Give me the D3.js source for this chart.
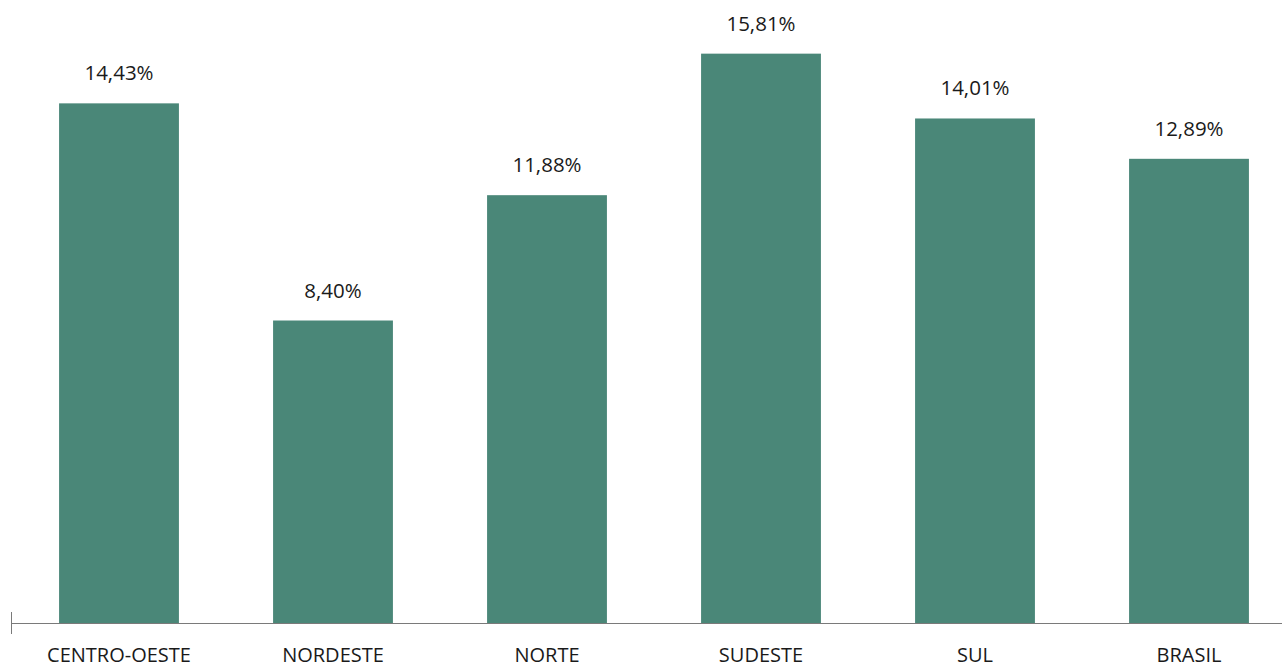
<!DOCTYPE html>
<html>
<head>
<meta charset="utf-8">
<script src="https://cdn.jsdelivr.net/npm/d3@7"></script>
<style>
    body { margin: 0; background: #fff; }
    text { font-family: "Open Sans", "Noto Sans", sans-serif; fill: #1a1a1a; }
</style>
</head>
<body>
<script>
(function() {

    //chart data
    var categories = ["CENTRO-OESTE", "NORDESTE", "NORTE", "SUDESTE", "SUL", "BRASIL"];
    var values = [14.43, 8.40, 11.88, 15.81, 14.01, 12.89];

    window.onload = setChart();

    function setChart() {
        var width = 1282,
            height = 666,
            baseline = 623;

        var svg = d3.select("body")
            .append("svg")
            .attr("width", width)
            .attr("height", height);

        var xScale = d3.scaleBand()
            .domain(categories)
            .range([12, 1296])
            .paddingInner(0.44)
            .paddingOuter(0.22);

        var yScale = d3.scaleLinear()
            .domain([0, 17.3])
            .range([baseline, 0]);

        var fmt = function(v) { return v.toFixed(2).replace(".", ",") + "%"; };

        //bars
        svg.selectAll(".bar")
            .data(values)
            .enter()
            .append("rect")
            .attr("class", "bar")
            .attr("x", (d, i) => xScale(categories[i]))
            .attr("width", xScale.bandwidth())
            .attr("y", d => yScale(d))
            .attr("height", d => baseline - yScale(d))
            .style("fill", "#4a8778");

        //value labels
        svg.selectAll(".numbers")
            .data(values)
            .enter()
            .append("text")
            .attr("class", "numbers")
            .attr("text-anchor", "middle")
            .attr("x", (d, i) => xScale(categories[i]) + xScale.bandwidth() / 2)
            .attr("y", d => yScale(d) - 23)
            .style("font-size", "20.5px")
            .text(fmt);

        //axis line
        svg.append("line")
            .attr("x1", 11).attr("x2", width)
            .attr("y1", baseline + 0.5).attr("y2", baseline + 0.5)
            .style("stroke", "#7a7a7a");
        svg.append("line")
            .attr("x1", 11.5).attr("x2", 11.5)
            .attr("y1", 612).attr("y2", 634)
            .style("stroke", "#7a7a7a");

        //category labels
        svg.selectAll(".catLabel")
            .data(categories)
            .enter()
            .append("text")
            .attr("class", "catLabel")
            .attr("text-anchor", "middle")
            .attr("x", d => xScale(d) + xScale.bandwidth() / 2)
            .attr("y", 662)
            .style("font-size", "20px")
            .text(d => d);
    }

})();
</script>
</body>
</html>
